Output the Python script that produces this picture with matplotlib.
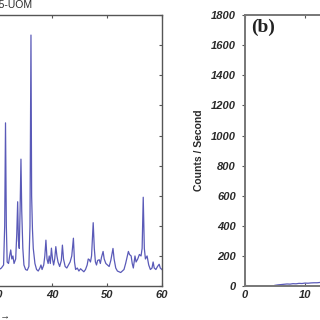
import matplotlib
matplotlib.use("Agg")
import matplotlib.pyplot as plt

# panel (a): XRD pattern, visible part only (2-theta, counts/s)
two_theta_a = [28.0, 28.5, 29.0, 29.5, 30.0, 30.4, 30.8, 31.2, 31.4, 31.55, 31.7, 31.85,
               32.1, 32.3, 32.5, 32.7, 32.9, 33.1, 33.4, 33.6, 33.76, 33.9, 34.05, 34.2,
               34.36, 34.5, 34.7, 34.9, 35.2, 35.5, 35.8, 36.0, 36.18, 36.3, 36.45, 36.6,
               36.9, 37.2, 37.5, 37.8, 38.0, 38.2, 38.5, 38.7, 38.9, 39.1, 39.3, 39.5,
               39.7, 39.9, 40.1, 40.3, 40.5, 40.7, 40.9, 41.1, 41.4, 41.7, 41.9, 42.1,
               42.4, 42.7, 43.0, 43.3, 43.6, 43.9, 44.1, 44.3, 44.6, 44.9, 45.2, 45.5,
               45.8, 46.1, 46.4, 46.6, 46.8, 47.0, 47.2, 47.5, 47.7, 47.9, 48.1, 48.3,
               48.6, 48.8, 49.0, 49.3, 49.5, 49.8, 50.1, 50.4, 50.7, 51.1, 51.3, 51.6,
               51.9, 52.2, 52.5, 52.8, 53.1, 53.4, 53.7, 53.9, 54.1, 54.4, 54.6, 54.8,
               55.1, 55.3, 55.6, 55.9, 56.2, 56.4, 56.6, 56.8, 57.0, 57.3, 57.6, 57.9,
               58.2, 58.4, 58.6, 58.9, 59.2, 59.5, 59.7, 60.0]
counts_a = [110, 100, 115, 105, 100, 110, 120, 140, 400, 1084, 400, 160,
            150, 200, 240, 180, 200, 150, 180, 350, 560, 300, 250, 500,
            843, 500, 250, 140, 110, 105, 130, 400, 1667, 600, 378, 250,
            150, 110, 100, 120, 140, 110, 140, 200, 305, 180, 150, 200,
            150, 252, 180, 140, 180, 262, 200, 160, 130, 170, 272, 180,
            130, 120, 140, 160, 200, 318, 160, 110, 120, 100, 115, 105,
            95, 110, 140, 180, 175, 160, 200, 421, 250, 160, 140, 170,
            175, 150, 190, 230, 180, 150, 140, 130, 170, 250, 180, 120,
            100, 95, 90, 100, 110, 150, 200, 230, 210, 200, 150, 120,
            200, 160, 180, 210, 200, 250, 590, 250, 180, 200, 140, 110,
            120, 160, 120, 110, 130, 145, 120, 110]

# panel (b): only the low-angle start is inside the crop
two_theta_b = [5.0, 5.5, 6.0, 6.5, 7.0, 7.5, 8.0, 8.5, 9.0, 9.5, 10.0, 10.5,
               11.0, 11.5, 12.0, 12.5, 13.0, 13.5, 14.0]
counts_b = [5, 8, 10, 12, 14, 13, 16, 15, 18, 17, 20, 19, 21, 22, 22, 24, 23, 25, 26]

x_ticks_a = [30, 40, 50, 60]
x_ticks_b = [0, 10, 20, 30, 40, 50, 60]
y_ticks = list(range(0, 2000, 200))
line_col = "#5a5ab8"
txt_col = "#2a2a2a"
spine_col = "#555555"

fig = plt.figure(figsize=(3.2, 3.2), dpi=100)
ax_a = fig.add_axes([-0.353, 0.106, 0.859, 0.847])
ax_b = fig.add_axes([0.7656, 0.106, 1.125, 0.847])

tick_font = dict(family="Liberation Sans", weight="bold", style="italic", size=8)

# panel (a)
ax_a.plot(two_theta_a, counts_a, color=line_col, lw=0.9)
ax_a.set_xlim(10, 60)
ax_a.set_ylim(0, 1800)
ax_a.set_xticks(x_ticks_a)
ax_a.set_yticks(y_ticks)
ax_a.tick_params(axis="both", direction="in", length=2.5, width=0.8, colors=spine_col,
                 top=True, right=True, labelcolor=txt_col, pad=3)
for lab in ax_a.get_xticklabels():
    lab.set(**tick_font)
ax_a.set_yticklabels([])
for s in ax_a.spines.values():
    s.set_color(spine_col)
    s.set_linewidth(1.0)
fig.text(33 / 320, 1 - 5 / 320, "XRD-AS-5-UOM", ha="right", va="center",
         fontsize=7.5, color=txt_col, family="Liberation Sans")
fig.text(10 / 320, 1 - 316 / 320, "2\u03b8 (degree) \u2192", ha="right", va="center",
         fontsize=7, color=txt_col, family="Liberation Sans", weight="bold")

# panel (b)
ax_b.plot(two_theta_b, counts_b, color=line_col, lw=0.9)
ax_b.set_xlim(0, 60)
ax_b.set_ylim(0, 1800)
ax_b.set_xticks(x_ticks_b)
ax_b.set_yticks(y_ticks)
ax_b.tick_params(axis="x", direction="in", length=2.5, width=0.8, colors=spine_col,
                 top=True, labelcolor=txt_col, pad=3)
ax_b.tick_params(axis="y", direction="out", length=2.5, width=0.8, colors=spine_col,
                 labelcolor=txt_col, pad=4)
for lab in ax_b.get_xticklabels() + ax_b.get_yticklabels():
    lab.set(**tick_font)
for s in ax_b.spines.values():
    s.set_color("#777777")
    s.set_linewidth(1.4)
ax_b.set_ylabel("Counts / Second", fontsize=7.5, color=txt_col, weight="bold",
                family="Liberation Sans", labelpad=5)
ax_b.text(0.018, 0.985, "(b)", transform=ax_b.transAxes, ha="left", va="top",
          fontsize=14, weight="bold", family="Liberation Serif", color="#222222")

fig.savefig("out.png", dpi=100)
